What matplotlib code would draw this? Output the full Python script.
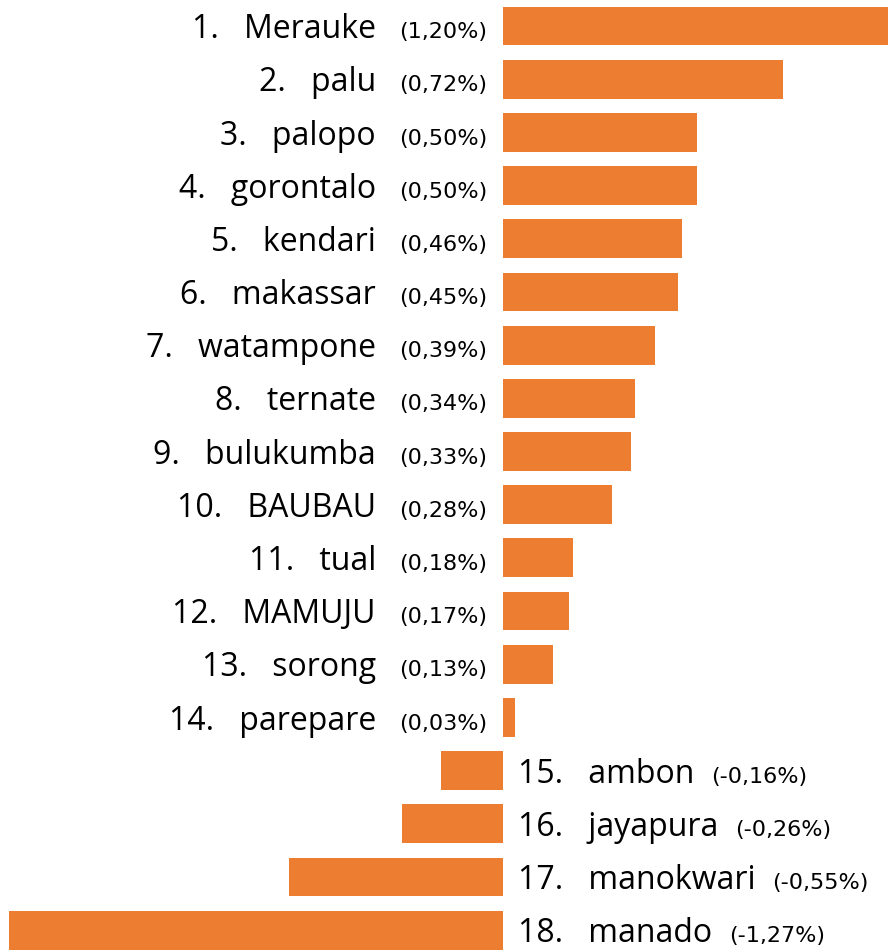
import matplotlib.pyplot as plt

# data
kota = ['Merauke', 'palu', 'palopo', 'gorontalo', 'kendari', 'makassar',
        'watampone', 'ternate', 'bulukumba', 'BAUBAU', 'tual', 'MAMUJU',
        'sorong', 'parepare', 'ambon', 'jayapura', 'manokwari', 'manado']
nilai = [1.20, 0.72, 0.50, 0.50, 0.46, 0.45, 0.39, 0.34, 0.33, 0.28,
         0.18, 0.17, 0.13, 0.03, -0.16, -0.26, -0.55, -1.27]

oranye = '#ED7D31'
plt.rcParams['font.family'] = ['Open Sans', 'DejaVu Sans']

fig = plt.figure(figsize=(8.88, 9.53), dpi=100)
ax = fig.add_axes([0, 0, 1, 1])
pos = list(range(len(kota)))
ax.barh(pos, nilai, height=0.73, color=oranye)

ax.set_xlim(-1.293, 0.990)
ax.set_ylim(17.41, -0.508)
ax.axis('off')

renderer = fig.canvas.get_renderer()
for i, (k, v) in enumerate(zip(kota, nilai)):
    y = i + 0.21
    label = f'{i + 1}.   {k}'
    pct = '(' + f'{v:.2f}'.replace('.', ',') + '%)'
    if v >= 0:
        ax.text(-0.3265, y, label, ha='right', va='baseline', fontsize=23)
        ax.text(-0.0411, y, pct, ha='right', va='baseline', fontsize=16,
                family='DejaVu Sans')
    else:
        t = ax.text(0.0386, y, label, ha='left', va='baseline', fontsize=23)
        bb = t.get_window_extent(renderer)
        x_end = ax.transData.inverted().transform((bb.x1 + 17, 0))[0]
        ax.text(x_end, y, pct, ha='left', va='baseline', fontsize=16,
                family='DejaVu Sans')

fig.savefig('out.png', dpi=100)
